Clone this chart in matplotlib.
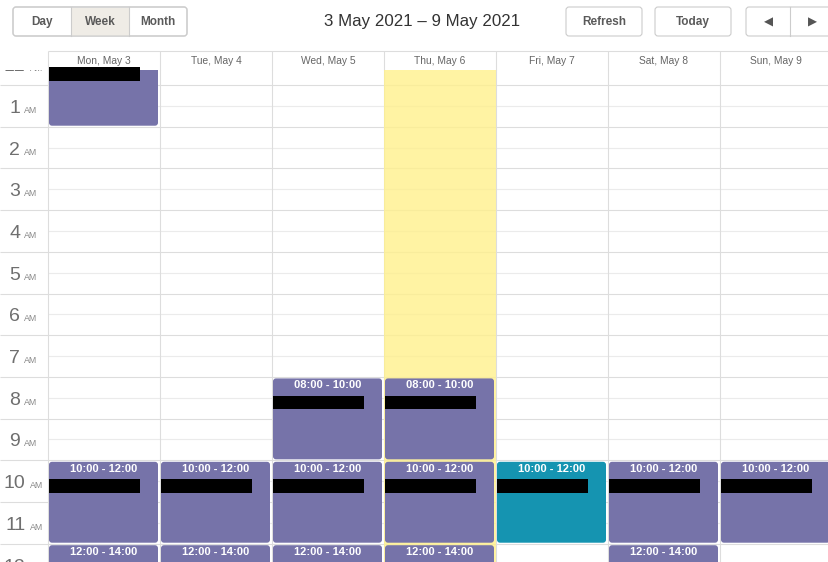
import matplotlib
matplotlib.use("Agg")
import matplotlib.pyplot as plt
from matplotlib.patches import FancyBboxPatch, Rectangle

plt.rcParams['font.family'] = ['Liberation Sans', 'DejaVu Sans']

# ---------------- data ----------------
title = "3 May 2021 \u2013 9 May 2021"
view_buttons = ["Day", "Week", "Month"]
active_view = "Week"
nav_buttons = ["Refresh", "Today"]
days = ["Mon, May 3", "Tue, May 4", "Wed, May 5", "Thu, May 6",
        "Fri, May 7", "Sat, May 8", "Sun, May 9"]
today_index = 3
hours = list(range(0, 13))

ev_day = [0, 2, 3, 0, 1, 2, 3, 4, 5, 6, 0, 1, 2, 3, 5]
ev_start = [0, 8, 8, 10, 10, 10, 10, 10, 10, 10, 12, 12, 12, 12, 12]
ev_end = [2, 10, 10, 12, 12, 12, 12, 12, 12, 12, 14, 14, 14, 14, 14]
ev_kind = ["a", "a", "a", "a", "a", "a", "a", "b", "a", "a", "a", "a", "a", "a", "a"]

# ---------------- style / layout ----------------
W, H = 829, 562
DAYW = 112.0          # px per day column
GUT = 48.0            # gutter width px
PXH = 41.7            # px per hour
GRID_TOP_PX = 70.0
HEAD_TOP_PX = 51.0
TOP_H = 0.64
BOT_H = TOP_H + (H - GRID_TOP_PX) / PXH
colors = {"a": "#7673A9", "b": "#1594B1"}
LINE = "#DDDDDD"
HALF = "#EBEBEB"

fig = plt.figure(figsize=(W / 100, H / 100), dpi=100)
fig.patch.set_facecolor("white")

# background axes in pixel units (toolbar)
bg = fig.add_axes([0, 0, 1, 1], zorder=0)
bg.set_xlim(0, W)
bg.set_ylim(H, 0)
bg.axis("off")


def button(ax, x0, x1, y0, y1, face="white"):
    p = FancyBboxPatch((x0, y0), x1 - x0, y1 - y0,
                       boxstyle="round,pad=0,rounding_size=3",
                       fc=face, ec="#CCCCCC", lw=0.8)
    ax.add_patch(p)

# view button group
bx = [13, 71, 129, 187]
button(bg, bx[0], bx[-1], 7, 36)
for i, lab in enumerate(view_buttons):
    if lab == active_view:
        bg.add_patch(Rectangle((bx[i], 7.5), bx[i + 1] - bx[i], 28,
                               fc="#EFECE6", ec="none"))
    if i > 0:
        bg.plot([bx[i], bx[i]], [7, 36], color="#CCCCCC", lw=0.8)
    bg.text((bx[i] + bx[i + 1]) / 2, 22, lab, ha="center", va="center",
            fontsize=8.5, fontweight="bold", color="#5A5A5A")
button(bg, bx[0], bx[-1], 7, 36, face="none")

bg.text(422.5, 21.5, title, ha="center", va="center", fontsize=12.2,
        color="#333333")

nb = [(566, 642), (655, 731)]
for (x0, x1), lab in zip(nb, nav_buttons):
    button(bg, x0, x1, 7, 36)
    bg.text((x0 + x1) / 2, 22, lab, ha="center", va="center",
            fontsize=8.5, fontweight="bold", color="#5A5A5A")
button(bg, 746, 840, 7, 36)
bg.plot([790, 790], [7, 36], color="#CCCCCC", lw=0.8)
bg.text(768, 22, "\u25C0", ha="center", va="center", fontsize=8.5,
        color="#555555", family="DejaVu Sans")
bg.text(812, 22, "\u25B6", ha="center", va="center", fontsize=8.5,
        color="#555555", family="DejaVu Sans")

# header axes
xl = (-GUT / DAYW, 7)
hd = fig.add_axes([0, (H - GRID_TOP_PX) / H, (GUT + 7 * DAYW) / W,
                   (GRID_TOP_PX - HEAD_TOP_PX) / H], zorder=1)
hd.set_xlim(*xl)
hd.set_ylim(0, 1)
hd.axis("off")
hd.hlines(1, 0, 7, color=LINE, lw=0.8, clip_on=False)
hd.vlines(range(0, 8), 0, 1, color=LINE, lw=0.8, clip_on=False)
for i, d in enumerate(days):
    hd.text(i + 0.5, 0.5, d, ha="center", va="center", fontsize=7.4,
            color="#666666")

# grid axes
ax = fig.add_axes([0, 0, (GUT + 7 * DAYW) / W, (H - GRID_TOP_PX) / H],
                  zorder=2)
ax.set_xlim(*xl)
ax.set_ylim(BOT_H, TOP_H)
ax.axis("off")

ax.hlines(hours, xl[0], 7, color=LINE, lw=0.8, zorder=1)
ax.hlines([h + 0.5 for h in hours], 0, 7, color=HALF, lw=0.8, zorder=1)
ax.vlines(range(0, 8), 0, 13, color=LINE, lw=0.8, zorder=1)

# today highlight
ax.add_patch(Rectangle((today_index, 0), 1, 14, fc=(1.0, 0.94, 0.55),
                       alpha=0.8, ec="none", zorder=2))

# gutter labels
for h in hours:
    num = str(12 if h % 12 == 0 else h % 12)
    suf = "AM" if h < 12 else "PM"
    num_w = 10.5 * len(num)
    start = 23 - (num_w + 4 + 12) / 2
    xr = (start + num_w - GUT) / DAYW
    xa = (start + num_w + 4 - GUT) / DAYW
    yb = h + 0.5 + 7 / PXH
    ax.text(xr, yb, num, ha="right", va="baseline", fontsize=14,
            color="#6F6F6F", zorder=4, clip_on=True)
    ax.text(xa, yb, suf, ha="left", va="baseline", fontsize=6.3,
            color="#888888", zorder=4, clip_on=True)

# events
asp = DAYW / PXH
for d, s, e, k in zip(ev_day, ev_start, ev_end, ev_kind):
    x0 = d + 1 / DAYW
    w = 1 - 3 / DAYW
    y0 = s + 1.5 / PXH
    hgt = (e - s) - 2.5 / PXH
    p = FancyBboxPatch((x0, y0), w, hgt,
                       boxstyle="round,pad=0,rounding_size=%f" % (3 / DAYW),
                       mutation_aspect=asp, fc=colors[k], ec="none",
                       zorder=3)
    ax.add_patch(p)
    ax.text(d + 0.5, s + 8.5 / PXH, "%02d:00 - %02d:00" % (s, e),
            ha="center", va="center", fontsize=8, fontweight="bold",
            color="white", zorder=4, clip_on=True)
    # redaction bar over title
    by = max(s + 19 / PXH, TOP_H - 3 / PXH)
    ax.add_patch(Rectangle((d + 1 / DAYW, by), 91 / DAYW, 13.5 / PXH,
                           fc="black", ec="none", zorder=6, clip_on=False))

fig.savefig("out.png", dpi=100)
